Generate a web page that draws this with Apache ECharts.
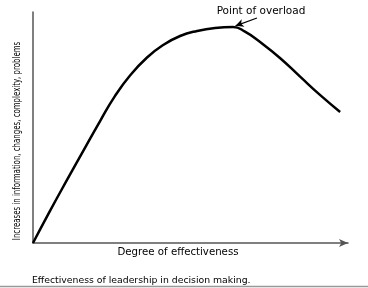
<!DOCTYPE html>
<html><head><meta charset="utf-8">
<script src="https://cdn.jsdelivr.net/npm/echarts@6/dist/echarts.min.js"></script>
<style>html,body{margin:0;padding:0;background:#fff}#c{width:368px;height:288px}</style>
</head><body><div id="c"></div>
<script>
// Degree of effectiveness (x) vs increases in information (y)
const effectiveness = [0, 5.4, 10.8, 16.5, 21.3, 26.0, 30.8, 36.2, 41.3, 46.7, 52.1, 57.8, 63.5, 67.3, 72.1, 78.4, 84.8, 91.1, 97.5];
const increases     = [0, 13.9, 27.3, 41.2, 52.8, 63.6, 72.5, 80.3, 85.7, 89.6, 91.8, 93.1, 93.5, 91.5, 87.0, 80.1, 72.0, 64.1, 56.7];
const annotationText = "Point of overload";
const xTitle = "Degree of effectiveness";
const yTitle = "Increases in information, changes, complexity, problems";
const caption = "Effectiveness of leadership in decision making.";

const chart = echarts.init(document.getElementById('c'), null, {renderer: 'canvas'});
const pts = effectiveness.map((x, i) => [x, increases[i]]);
chart.setOption({
  animation: false,
  grid: {left: 33, right: 20, top: 12, bottom: 45},
  xAxis: {
    type: 'value', min: 0, max: 100,
    axisLine: {show: true, symbol: ['none', 'arrow'], symbolSize: [6, 9], lineStyle: {color: '#555', width: 1.5}},
    axisTick: {show: false}, axisLabel: {show: false}, splitLine: {show: false}
  },
  yAxis: {
    type: 'value', min: 0, max: 100,
    axisLine: {show: true, lineStyle: {color: '#555', width: 1.5}},
    axisTick: {show: false}, axisLabel: {show: false}, splitLine: {show: false}
  },
  series: [{
    type: 'line', data: pts, smooth: 0.5, symbol: 'none',
    lineStyle: {color: '#000', width: 2.5},
    markLine: {
      silent: true, symbol: ['none', 'arrow'], symbolSize: [6, 8],
      label: {show: false},
      lineStyle: {color: '#000', width: 1.2, type: 'solid'},
      data: [[{coord: [71.1, 97.4]}, {coord: [64.3, 94.0]}]]
    }
  }],
  graphic: [
    {type: 'text', x: 261, y: 11, style: {text: annotationText, font: '10.5px "DejaVu Sans"', fill: '#000', align: 'center', verticalAlign: 'middle'}},
    {type: 'text', x: 178, y: 252, style: {text: xTitle, font: '10.2px "DejaVu Sans"', fill: '#000', align: 'center', verticalAlign: 'middle'}},
    {type: 'text', x: 17.5, y: 141, rotation: Math.PI / 2, scaleX: 0.7, style: {text: yTitle, font: '10px "DejaVu Sans"', fill: '#000', align: 'center', verticalAlign: 'middle'}},
    {type: 'text', x: 32, y: 281, style: {text: caption, font: '9.3px "DejaVu Sans"', fill: '#000', align: 'left', verticalAlign: 'middle'}},
    {type: 'line', shape: {x1: 0, y1: 286.5, x2: 368, y2: 286.5}, style: {stroke: '#999', lineWidth: 1.5}}
  ]
});
</script></body></html>
